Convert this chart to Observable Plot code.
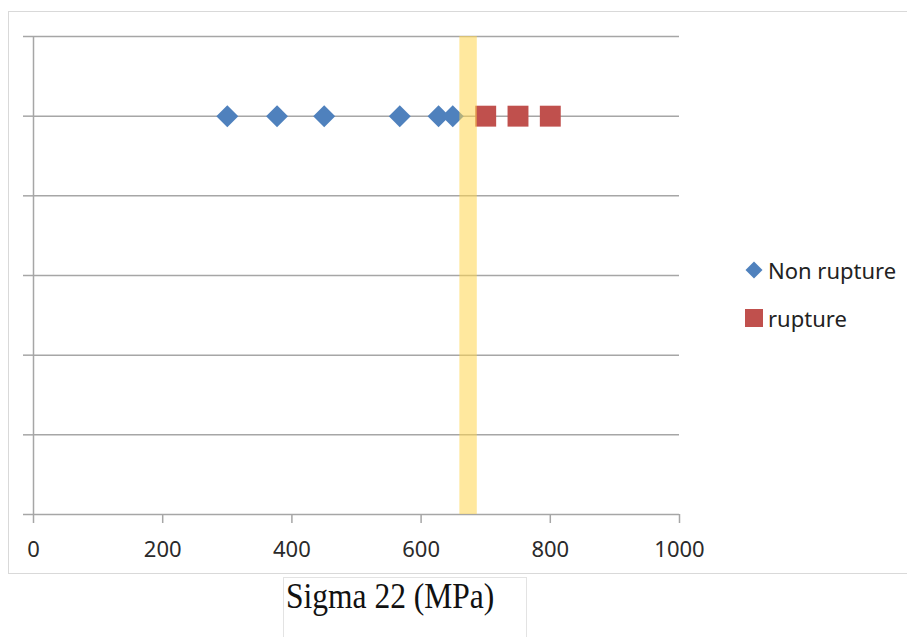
<!DOCTYPE html>
<html><head><meta charset="utf-8">
<script src="https://cdn.jsdelivr.net/npm/d3@7"></script>
<script src="https://cdn.jsdelivr.net/npm/@observablehq/plot@0.6"></script>
<style>
body{margin:0;background:#fff;}
#wrap{position:relative;width:907px;height:637px;overflow:hidden;font-family:"Noto Sans",sans-serif;}
#frame{position:absolute;left:8px;top:11px;width:905px;height:563px;border:1px solid #d9d9d9;box-sizing:border-box;}
#chart{position:absolute;left:0;top:0;}
#legend{position:absolute;left:744px;top:246px;font-size:22px;color:#222;}
.item{display:flex;align-items:center;height:48px;}
.item svg{margin-right:4px;}
#caption{position:absolute;left:283px;top:577px;width:244px;height:80px;border:1px solid #e3e3e3;box-sizing:border-box;padding-top:1px;}
#caption span{display:inline-block;font-family:"Liberation Serif","Times New Roman",serif;font-size:35px;line-height:35px;color:#111;
 transform:scaleX(0.9);transform-origin:left top;margin-left:2px;white-space:nowrap;}
</style></head>
<body>
<div id="wrap">
  <div id="frame"></div>
  <div id="chart"></div>
  <div id="legend"></div>
  <div id="caption"><span id="captext"></span></div>
</div>
<script>
// ---- data ----
const xTicks = [0, 200, 400, 600, 800, 1000];
const yTicks = [0, 1, 2, 3, 4, 5, 6];
const nonRupture = [300, 377, 450, 567, 627, 649];
const rupture = [700, 750, 800];
const level = 5;
const band = [{start: 660, end: 687}];
const seriesNames = ["Non rupture", "rupture"];
const seriesColors = ["#4F81BD", "#C0504D"];
const axisLabel = "Sigma 22 (MPa)";

const grid = "#a6a6a6";
const chart = Plot.plot({
  width: 907,
  height: 573,
  marginLeft: 33,
  marginRight: 228,
  marginTop: 36,
  marginBottom: 59,
  style: {background: "transparent", overflow: "visible", fontFamily: "'Noto Sans', sans-serif"},
  x: {domain: [0, 1000]},
  y: {domain: [0, 6]},
  marks: [
    Plot.gridY(yTicks, {stroke: grid, strokeOpacity: 1, strokeWidth: 1.5}),
    Plot.axisY({ticks: yTicks, tickSize: 10, tickFormat: () => "", stroke: grid, strokeWidth: 1.5, label: null}),
    Plot.ruleX([0], {y1: 0, y2: 6, stroke: grid, strokeWidth: 1.5}),
    Plot.axisX({ticks: xTicks, tickSize: 9, tickPadding: 18, fontSize: 22, tickFormat: d => String(d), stroke: grid, strokeWidth: 1.5, fill: "#2a2a2a", label: null}),
    Plot.dot(nonRupture, {x: d => d, y: level, symbol: "diamond2", r: 9.9, fill: seriesColors[0], stroke: null}),
    Plot.dot(rupture, {x: d => d, y: level, symbol: "square", r: 11.8, fill: seriesColors[1], stroke: null}),
    Plot.rect(band, {x1: "start", x2: "end", y1: 0, y2: 6, fill: "#FFD54F", fillOpacity: 0.55})
  ]
});
document.getElementById("chart").appendChild(chart);

const legend = document.getElementById("legend");
const shapes = [
  '<svg width="20" height="20" viewBox="-10 -10 20 20"><path d="M0,-8.5L8.5,0L0,8.5L-8.5,0Z" fill="' + seriesColors[0] + '"/></svg>',
  '<svg width="20" height="20" viewBox="-10 -10 20 20"><rect x="-9" y="-9" width="18" height="18" fill="' + seriesColors[1] + '"/></svg>'
];
seriesNames.forEach((name, i) => {
  const d = document.createElement("div");
  d.className = "item";
  d.innerHTML = shapes[i] + "<span>" + name + "</span>";
  legend.appendChild(d);
});
document.getElementById("captext").textContent = axisLabel;
</script>
</body></html>
